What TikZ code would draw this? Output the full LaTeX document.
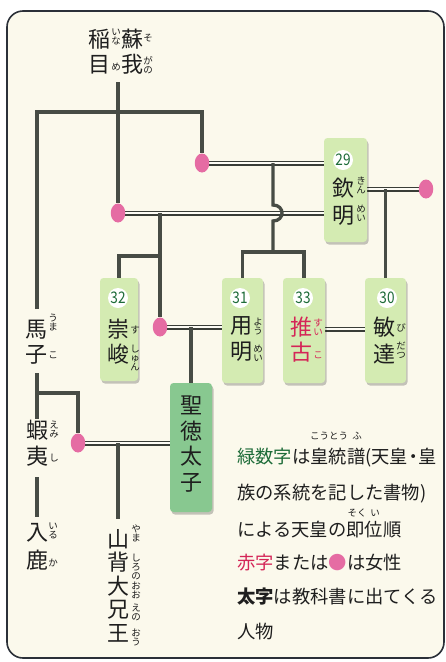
\documentclass[tikz,border=0pt]{standalone}
\usepackage{fontspec}
\setmainfont{Noto Sans CJK JP}
\usetikzlibrary{shapes.geometric,shadows}
\pgfdeclarelayer{frame}
\pgfdeclarelayer{lines}
\pgfsetlayers{frame,lines,main}
\definecolor{linec}{HTML}{474C45}
\definecolor{pinkc}{HTML}{E56CA3}
\definecolor{boxg}{HTML}{D4EBB2}
\definecolor{boxdg}{HTML}{88C890}
\definecolor{numg}{HTML}{1D6B38}
\definecolor{redc}{HTML}{D42557}
\definecolor{cream}{HTML}{FBF9EC}
\definecolor{framec}{HTML}{2B3038}
\definecolor{txt}{HTML}{1E1E1E}
\tikzset{
  single/.style={draw=linec, line width=3.3pt},
  dbl/.style={draw=linec!80!black, line width=1.5pt, double=cream!50!white, double distance=2pt},
  pinkdot/.style={ellipse, fill=pinkc, inner sep=0pt, minimum width=14.5pt, minimum height=19pt},
  kbox/.style={rectangle, rounded corners=3.5pt, fill=boxg, inner sep=0pt,
    drop shadow={shadow xshift=1.5pt, shadow yshift=-2.5pt, opacity=0.22, fill=black}},
  numc/.style={circle, fill=white, inner sep=0pt, minimum size=20pt, text=numg,
    font=\fontsize{16}{16}\selectfont},
  vt/.style={align=center, inner sep=0pt, text=txt, font=\fontsize{22}{#1}\selectfont},
  vt/.default=25,
  ruby/.style={align=center, inner sep=0pt, text=txt, font=\fontsize{9.5}{9}\selectfont},
  leg/.style={anchor=west, inner sep=0pt, text=txt, font=\fontsize{18.3}{18.3}\selectfont},
}
\begin{document}
\begin{tikzpicture}[x=1pt,y=-1pt]
\useasboundingbox (0,0) rectangle (446,662);
\begin{pgfonlayer}{frame}
  \draw[framec, line width=1.6pt, fill=cream, rounded corners=16pt] (7,11) rectangle (444,658);
\end{pgfonlayer}

% boxes
\node[kbox, minimum width=43pt, minimum height=104pt] (b29) at (345.5,190) {};
\node[kbox, minimum width=38pt, minimum height=103pt] (b32) at (119,329.5) {};
\node[kbox, minimum width=41pt, minimum height=105pt] (b31) at (242.5,330.5) {};
\node[kbox, minimum width=42pt, minimum height=105pt] (b33) at (304,330.5) {};
\node[kbox, minimum width=41pt, minimum height=105pt] (b30) at (385.5,330.5) {};
\node[kbox, fill=boxdg, minimum width=42pt, minimum height=129pt] (bsho) at (191,447.5) {};

% numbers
\node[numc] (n29) at (343,160) {\scalebox{0.85}[1]{29}};
\node[numc] (n32) at (118,298) {\scalebox{0.85}[1]{32}};
\node[numc] (n31) at (240,298) {\scalebox{0.85}[1]{31}};
\node[numc] (n33) at (303,298) {\scalebox{0.85}[1]{33}};
\node[numc] (n30) at (387,298) {\scalebox{0.85}[1]{30}};

% names in boxes
\node[vt=27] (k29) at (343,202) {欽\\明};
\node[ruby] (r29a) at (361,185) {き\\ん};
\node[ruby] (r29b) at (361,213) {め\\い};
\node[vt=25] (k32) at (118,342) {崇\\峻};
\node[ruby] (r32a) at (135,330) {す};
\node[ruby] (r32b) at (135,358) {し\\ゅ\\ん};
\node[vt=26] (k31) at (241,339) {用\\明};
\node[ruby] (r31a) at (258,326) {よ\\う};
\node[ruby] (r31b) at (258,353) {め\\い};
\node[vt=25, text=redc] (k33) at (301,339.5) {推\\古};
\node[ruby, text=redc] (r33a) at (318,327) {す\\い};
\node[ruby, text=redc] (r33b) at (318,355) {こ};
\node[vt=27] (k30) at (384,340.5) {敏\\達};
\node[ruby] (r30a) at (401,328) {び};
\node[ruby] (r30b) at (401,350) {だ\\つ};
\node[vt=25.5] (ksho) at (191,444) {聖\\徳\\太\\子};

% free names
\node[vt=25] (kiname) at (99,51.5) {稲\\目};
\node[ruby] (riname1) at (116,37) {い\\な};
\node[ruby] (riname2) at (116,67) {め};
\node[vt=25] (ksoga) at (132,51.5) {蘇\\我};
\node[ruby] (rsoga1) at (148,38) {そ};
\node[ruby] (rsoga2) at (148,65) {が\\の};
\node[vt=25] (kumako) at (36,342) {馬\\子};
\node[ruby] (rumako1) at (53,322) {う\\ま};
\node[ruby] (rumako2) at (53,355) {こ};
\node[vt=26] (kemishi) at (37,443.5) {蝦\\夷};
\node[ruby] (remishi1) at (54,430) {え\\み};
\node[ruby] (remishi2) at (54,458) {し};
\node[vt=28] (kiruka) at (37,547) {入\\鹿};
\node[ruby] (riruka1) at (53,531) {い\\る};
\node[ruby] (riruka2) at (53,563) {か};
\node[vt=23.5] (kyama) at (118,585.5) {山\\背\\大\\兄\\王};
\node[ruby] (ryama1) at (136,533) {や\\ま};
\node[ruby] (ryama2) at (136,567) {し\\ろ\\の};
\node[ruby] (ryama3) at (136,590) {お\\お};
\node[ruby] (ryama4) at (136,612) {え\\の};
\node[ruby] (ryama5) at (136,637) {お\\う};

% pink dots
\node[pinkdot] (p1) at (202,163) {};
\node[pinkdot] (p2) at (118,213) {};
\node[pinkdot] (p3) at (426,189) {};
\node[pinkdot] (p4) at (160,327) {};
\node[pinkdot] (p5) at (78,443) {};

% junction coordinates
\coordinate (sogaB) at (118,82);
\coordinate (barR) at (202,112);
\coordinate (umaT) at (37,309);
\coordinate (umaB) at (37,373);
\coordinate (emiT) at (37,419);
\coordinate (emiB) at (37,477);
\coordinate (iruT) at (37,517);
\coordinate (umaJ) at (37,393);
\coordinate (hopT) at (273,163);
\coordinate (hopA) at (273,205);
\coordinate (hopB) at (273,221);
\coordinate (bar2M) at (273,252);
\coordinate (j2) at (160,213);
\coordinate (bar3) at (160,256);
\coordinate (j5) at (118,443);
\coordinate (yamaT) at (118,519);

\begin{pgfonlayer}{lines}
  \draw[single] (sogaB) -- (p2);
  \draw[single] (umaT) |- (barR) -- (p1);
  \draw[dbl] (p1) -- (p1 -| b29.west);
  \draw[dbl] (p2) -- (p2 -| b29.west);
  \draw[dbl] (b29.east |- p3) -- (p3);
  \draw[single] (hopT) -- (hopA) .. controls (285,205) and (285,221) .. (hopB) -- (bar2M);
  \draw[single] (b31.north) |- (bar2M) -| (b33.north);
  \draw[single] (j2) -- (p4);
  \draw[single] (b32.north) |- (bar3);
  \draw[single] (b30.north) -- (b30.north |- p3);
  \draw[dbl] (p4) -- (p4 -| b31.west);
  \draw[single] (bsho.north |- p4) -- (bsho.north);
  \draw[dbl] ([yshift=1.5pt]b33.east) -- ([yshift=1.5pt]b30.west);
  \draw[single] (umaB) -- (emiT);
  \draw[single] (umaJ) -| (p5);
  \draw[dbl] (p5) -- (p5 -| bsho.west);
  \draw[single] (j5) -- (yamaT);
  \draw[single] (emiB) -- (iruT);
\end{pgfonlayer}

% legend
\node[leg] (leg1) at (237,458) {{\color{numg}緑数字}は皇統譜(天皇\kern-4pt・\kern-4pt皇};
\node[ruby] (lr1) at (329,436) {こうとう};
\node[ruby] (lr2) at (357,436) {ふ};
\node[leg] (leg2) at (237,494) {族の系統を記した書物)};
\node[leg] (leg3) at (237,530) {による天皇の即位順};
\node[ruby] (lr3) at (357,513) {そく};
\node[ruby] (lr4) at (375,513) {い};
\node[leg] (leg4) at (237,563) {{\color{redc}赤字}または{\color{pinkc}●}は女性};
\node[leg] (leg5) at (237,597) {{\bfseries 太字}は教科書に出てくる};
\node[leg] (leg6) at (237,632) {人物};
\end{tikzpicture}
\end{document}
